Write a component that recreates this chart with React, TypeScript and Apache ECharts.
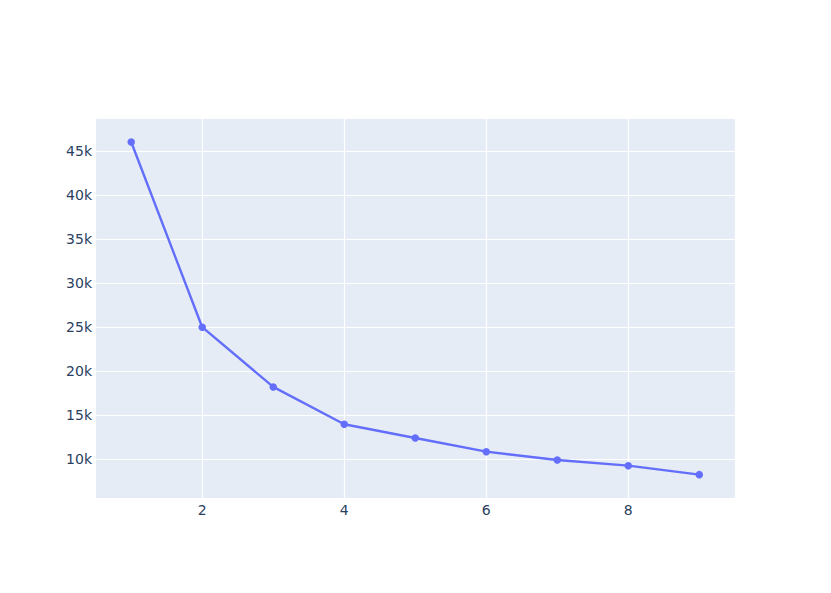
import React, { useEffect, useRef } from "react";
import * as echarts from "echarts";

const xValues = [1, 2, 3, 4, 5, 6, 7, 8, 9];
const yValues = [46020, 25000, 18220, 13980, 12420, 10870, 9920, 9280, 8260];

export default function App() {
  const ref = useRef<HTMLDivElement>(null);
  useEffect(() => {
    document.body.style.margin = "0";
    const chart = echarts.init(ref.current!, null, { renderer: "svg" });
    const font = "DejaVu Sans, Verdana, sans-serif";
    chart.setOption({
      animation: false,
      backgroundColor: "#ffffff",
      grid: {
        left: 95,
        right: 95.5,
        top: 118,
        bottom: 95,
        show: true,
        backgroundColor: "#E5ECF6",
        borderWidth: 0,
        containLabel: false,
      },
      xAxis: {
        type: "value",
        min: 0.49,
        max: 9.51,
        splitNumber: 5,
        axisLine: { show: false },
        axisTick: { show: false },
        splitLine: { show: true, lineStyle: { color: "#ffffff", width: 1.2 } },
        axisLabel: {
          showMinLabel: false,
          showMaxLabel: false,
          color: "#2a3f5f",
          fontSize: 14,
          fontFamily: font,
          margin: 5,
        },
      },
      yAxis: {
        type: "value",
        min: 5610,
        max: 48750,
        splitNumber: 8,
        axisLine: { show: false },
        axisTick: { show: false },
        splitLine: { show: true, lineStyle: { color: "#ffffff", width: 1.2 } },
        axisLabel: {
          showMinLabel: false,
          showMaxLabel: false,
          color: "#2a3f5f",
          fontSize: 14,
          fontFamily: font,
          margin: 3,
          formatter: (v: number) => v / 1000 + "k",
        },
      },
      series: [
        {
          type: "line",
          data: xValues.map((x, i) => [x, yValues[i]]),
          symbol: "circle",
          symbolSize: 7.5,
          lineStyle: { color: "#636EFA", width: 2.4 },
          itemStyle: { color: "#636EFA" },
        },
      ],
    });
    return () => chart.dispose();
  }, []);
  return <div ref={ref} style={{ width: 831, height: 593 }} />;
}
